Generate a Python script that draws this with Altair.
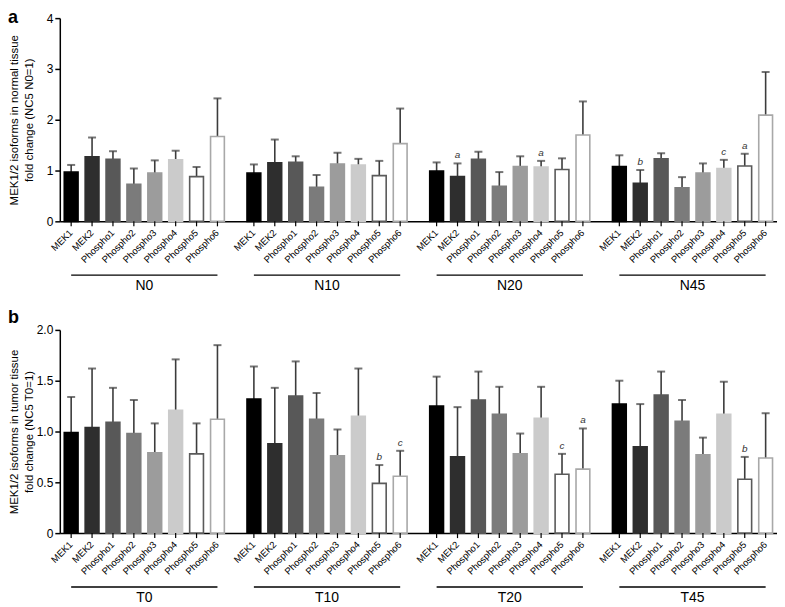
import altair as alt
import pandas as pd

isoforms = ["MEK1", "MEK2", "Phospho1", "Phospho2", "Phospho3", "Phospho4", "Phospho5", "Phospho6"]
fills = ["#000000", "#2e2e2e", "#585858", "#7b7b7b", "#9c9c9c", "#cbcbcb", "#ffffff", "#ffffff"]
strokes = ["#000000", "#2e2e2e", "#585858", "#7b7b7b", "#9c9c9c", "#cbcbcb", "#5a5a5a", "#a8a8a8"]

# ---- panel a: normal tissue ----
normal_groups = ["N0", "N10", "N20", "N45"]
n0_mean = [0.97, 1.27, 1.22, 0.73, 0.95, 1.21, 0.88, 1.67]
n0_sd = [0.14, 0.38, 0.16, 0.31, 0.25, 0.18, 0.19, 0.75]
n10_mean = [0.95, 1.15, 1.16, 0.67, 1.13, 1.11, 0.90, 1.53]
n10_sd = [0.17, 0.46, 0.12, 0.24, 0.22, 0.12, 0.29, 0.69]
n20_mean = [0.99, 0.88, 1.22, 0.69, 1.08, 1.07, 1.02, 1.70]
n20_sd = [0.17, 0.26, 0.15, 0.28, 0.20, 0.12, 0.22, 0.66]
n45_mean = [1.08, 0.75, 1.23, 0.66, 0.95, 1.04, 1.09, 2.09]
n45_sd = [0.22, 0.26, 0.11, 0.21, 0.19, 0.17, 0.24, 0.85]
n0_sig = ["", "", "", "", "", "", "", ""]
n10_sig = ["", "", "", "", "", "", "", ""]
n20_sig = ["", "a", "", "", "", "a", "", ""]
n45_sig = ["", "b", "", "", "", "c", "a", ""]

# ---- panel b: tumor tissue ----
tumor_groups = ["T0", "T10", "T20", "T45"]
t0_mean = [0.99, 1.04, 1.09, 0.98, 0.79, 1.21, 0.78, 1.12]
t0_sd = [0.35, 0.58, 0.34, 0.33, 0.29, 0.50, 0.30, 0.73]
t10_mean = [1.32, 0.88, 1.35, 1.12, 0.76, 1.15, 0.49, 0.56]
t10_sd = [0.32, 0.55, 0.34, 0.26, 0.26, 0.47, 0.18, 0.25]
t20_mean = [1.25, 0.75, 1.31, 1.17, 0.78, 1.13, 0.58, 0.63]
t20_sd = [0.29, 0.49, 0.28, 0.27, 0.20, 0.31, 0.20, 0.40]
t45_mean = [1.27, 0.85, 1.36, 1.10, 0.77, 1.17, 0.53, 0.74]
t45_sd = [0.23, 0.42, 0.23, 0.21, 0.17, 0.32, 0.22, 0.44]
t0_sig = ["", "", "", "", "", "", "", ""]
t10_sig = ["", "", "", "", "", "", "b", "c"]
t20_sig = ["", "", "", "", "", "", "c", "a"]
t45_sig = ["", "", "", "", "", "", "b", ""]


def make_df(groups, means, sds, sigs):
    rows = []
    for g, m, s, sg in zip(groups, means, sds, sigs):
        for iso, mv, sv, lt in zip(isoforms, m, s, sg):
            rows.append({"group": g, "iso": iso, "mean": mv, "upper": round(mv + sv, 3), "letter": lt})
    return pd.DataFrame(rows)


df_n = make_df(normal_groups, [n0_mean, n10_mean, n20_mean, n45_mean],
               [n0_sd, n10_sd, n20_sd, n45_sd], [n0_sig, n10_sig, n20_sig, n45_sig])
df_t = make_df(tumor_groups, [t0_mean, t10_mean, t20_mean, t45_mean],
               [t0_sd, t10_sd, t20_sd, t45_sd], [t0_sig, t10_sig, t20_sig, t45_sig])

W = 720
H = 204
ERR = "#3c3c3c"


def panel(df, groups, ymax, yvalues, label_expr, title_lines, letter, letter_y):
    xenc = alt.X("group:N", sort=groups,
                 scale=alt.Scale(paddingInner=0.085, paddingOuter=0.005),
                 axis=alt.Axis(labels=False, ticks=False, title=None, domainColor="black",
                               domainWidth=1.5))
    xoff = alt.XOffset("iso:N", sort=isoforms, scale=alt.Scale(paddingInner=0.34, paddingOuter=0.17))
    yenc = alt.Y("mean:Q", scale=alt.Scale(domain=[0, ymax], nice=False),
                 axis=alt.Axis(values=yvalues, labelExpr=label_expr, title=title_lines,
                               titleX=-40, titleY=H / 2, titleAngle=-90, titleBaseline="bottom",
                               titleLineHeight=14.5, titleFontSize=11.5, titleFontWeight="normal",
                               titleColor="black", labelFontSize=12, labelColor="black",
                               tickSize=5, tickWidth=1.5, tickColor="black",
                               domainColor="black", domainWidth=1.5, grid=False, labelPadding=2))
    base = alt.Chart(df).encode(x=xenc, xOffset=xoff)
    err = base.mark_rule(color=ERR, strokeWidth=1.6).encode(y=alt.Y("mean:Q"), y2="upper:Q")
    cap = base.mark_tick(orient="horizontal", size=8, thickness=2, color=ERR).encode(y="upper:Q")
    bars = base.mark_bar(strokeWidth=1.6).encode(
        y=yenc,
        color=alt.Color("iso:N", scale=alt.Scale(domain=isoforms, range=fills), legend=None),
        stroke=alt.Stroke("iso:N", scale=alt.Scale(domain=isoforms, range=strokes), legend=None),
    )
    sig = base.transform_filter("datum.letter != ''").mark_text(
        fontStyle="italic", fontSize=10, baseline="bottom", dy=-3, color="#333333"
    ).encode(y="upper:Q", text="letter:N")
    ticks = base.mark_rule(color="black", strokeWidth=1.2).encode(y=alt.value(H), y2=alt.value(H + 5))
    labels = base.mark_text(angle=315, align="right", baseline="middle", fontSize=9.5,
                            color="black").encode(y=alt.value(H + 10), text="iso:N")
    gline = base.mark_line(color="black", strokeWidth=1.5).encode(y=alt.value(H + 54), detail="group:N")
    gtext = alt.Chart(pd.DataFrame({"group": groups})).mark_text(
        fontSize=14, baseline="middle", color="black").encode(x=xenc, y=alt.value(H + 65), text="group:N")
    ltext = alt.Chart(pd.DataFrame({"t": [letter]})).mark_text(
        fontSize=18, fontWeight="bold", align="left", baseline="alphabetic", color="black"
    ).encode(x=alt.value(-52), y=alt.value(letter_y), text="t:N")
    return alt.layer(err, cap, bars, sig, ticks, labels, gline, gtext, ltext).properties(width=W, height=H)


pa = panel(df_n, normal_groups, 4, [0, 1, 2, 3, 4], "format(datum.value, 'd')",
           ["MEK1/2 isoforms in normal tissue", "fold change (NC5 N0=1)"], "a", 5)
pb = panel(df_t, tumor_groups, 2, [0, 0.5, 1, 1.5, 2],
           "datum.value == 0 ? '0' : format(datum.value, '.1f')",
           ["MEK1/2 isoforms in tumor tissue", "fold change (NC5 T0=1)"], "b", -7)

chart = alt.vconcat(pa, pb, spacing=109, bounds="flush").resolve_scale(
    x="independent", y="independent", xOffset="independent"
).properties(padding=0).configure(font="Liberation Sans").configure_view(stroke=None)

chart.save("out.html", embed_options={"renderer": "svg", "actions": False})
